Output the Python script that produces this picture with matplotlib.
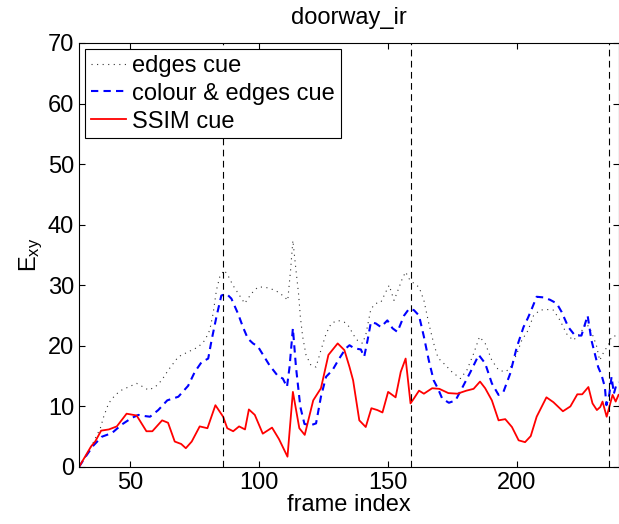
import matplotlib
matplotlib.use("Agg")
import matplotlib.pyplot as plt

plt.rcParams['font.family'] = ['Liberation Sans', 'DejaVu Sans']
plt.rcParams['mathtext.default'] = 'regular'

# valeurs (frame index, E_xy)
edges_x = [30, 33.0, 35.5, 38.3, 39.6, 41.5, 44.1, 46.6, 49.2, 52.4, 55.0, 57.0, 59.6, 62.1, 64.7,
           68.6, 72.4, 76.3, 78.9, 80.8, 82.1, 83.4, 84.7, 86.4, 87.9, 89.8, 92.4, 94.4, 96.9, 99.5,
           102.1, 104.7, 107.3, 109.8, 111.1, 112.2, 113.1, 114.3, 115.3, 116.0, 116.9, 118.2, 120.1,
           122.1, 124.0, 126.0, 128.0, 130.5, 133.1, 135.1, 136.3, 138.2, 140.2, 141.5, 143.4, 145.3,
           147.3, 149.2, 150.5, 152.4, 154.4, 155.6, 156.9, 158.2, 160.1, 162.1, 164.0, 165.9, 167.8,
           169.5, 171.7, 174.9, 178.2, 180.7, 183.3, 185.6, 187.8, 190.4, 193.0, 195.6, 197.5, 200.1,
           202.0, 204.4, 206.6, 209.1, 211.7, 214.3, 216.9, 219.4, 222.0, 224.6, 227.2, 229.1, 231.0,
           232.3, 233.9, 235.6, 236.9, 238.9, 239.6]
edges_y = [0, 2.0, 4.0, 6.4, 8.3, 10.5, 11.9, 12.7, 13.2, 13.8, 13.2, 12.7, 13.2, 14.3, 16.0,
           18.2, 19.0, 19.8, 20.9, 22.6, 25.3, 29.2, 31.4, 32.5, 31.6, 30.0, 28.3, 27.0, 28.6, 29.7,
           29.7, 29.4, 28.9, 28.1, 27.5, 32.5, 37.4, 32.5, 28.6, 24.8, 21.5, 18.5, 16.8,
           16.5, 19.3, 22.0, 23.7, 24.2, 23.9, 23.1, 22.0, 20.9, 20.4, 22.0, 26.1, 27.0,
           27.2, 28.9, 30.0, 27.5, 29.7, 31.1, 32.2, 31.1, 30.3, 29.7, 27.5, 23.7, 20.4,
           18.0, 17.1, 15.7, 14.6, 16.0, 18.7, 21.5, 20.4, 17.6, 16.0, 15.7, 16.3, 18.7,
           20.9, 22.5, 25.0, 25.9, 26.0, 25.9, 24.2, 22.0, 20.9, 22.0, 23.7, 22.3, 20.1,
           17.6, 19.0, 20.1, 21.5, 21.7, 21.7]

colour_x = [30, 32.4, 35.5, 38.9, 42.8, 46.6, 50.5, 53.1, 55.7, 57.6, 60.8, 64.3, 68.6, 72.4, 75.0,
            77.6, 80.2, 81.5, 83.4, 85.3, 87.3, 89.2, 91.8, 93.7, 95.6, 97.6, 99.5, 100.8, 104.0,
            107.3, 109.2, 110.8, 111.8, 113.1, 114.3, 116.0, 117.6, 120.1, 122.1, 124.0, 126.0,
            128.5, 131.1, 133.7, 135.1, 136.9, 139.5, 140.8, 142.1, 143.4, 145.3, 147.3, 149.8,
            151.8, 153.7, 156.3, 158.2, 160.1, 162.1, 164.0, 165.9, 167.8, 169.5, 171.1, 173.7,
            176.3, 178.8, 182.1, 185.3, 187.8, 190.4, 193.0, 194.9, 197.5, 200.1, 202.7, 204.4,
            205.9, 207.8, 210.4, 213.0, 215.6, 217.5, 220.1, 222.7, 225.2, 227.6, 229.1, 230.4,
            231.7, 233.0, 234.3, 234.9, 236.0, 236.9, 237.8, 238.9, 239.6]
colour_y = [0, 1.6, 3.5, 5.0, 5.6, 7.0, 8.1, 8.6, 8.4, 8.3, 9.4, 11.0, 11.6, 13.4, 15.7,
            17.3, 17.9, 20.9, 24.8, 28.3, 28.6, 27.8, 25.3, 23.1, 21.2, 20.4, 19.9, 19.0, 16.8,
            15.0, 14.6, 13.2, 16.5, 22.9, 16.5, 9.9, 7.1, 6.9, 7.2, 11.6, 14.9,
            16.0, 17.9, 19.6, 20.1, 19.6, 19.4, 18.2, 20.9, 23.9, 23.7, 23.1, 24.2,
            22.9, 22.3, 25.0, 26.1, 25.9, 25.0, 21.5, 17.6, 14.3, 12.9, 11.3, 10.6,
            11.0, 13.0, 15.7, 18.5, 17.1, 13.8, 11.9, 12.4, 15.4, 19.8, 23.1, 24.6,
            26.1, 28.1, 28.0, 27.6, 27.0, 25.6, 23.1, 21.7, 21.7, 25.0, 20.9, 18.7,
            16.5, 15.2, 13.2, 10.2, 11.9, 14.9, 12.1, 13.8, 14.0]

ssim_x = [30, 34.7, 36.3, 38.6, 41.6, 44.7, 48.5, 52.4, 56.2, 58.5, 62.3, 64.6, 67.2, 69.7, 71.5,
          73.8, 76.9, 79.9, 83.0, 86.0, 87.6, 89.9, 92.2, 94.5, 96.0, 98.3, 101.4, 105.0, 107.7,
          111.0, 113.1, 115.6, 117.7, 121.0, 124.0, 126.9, 130.5, 133.1, 135.1, 136.5, 138.9,
          141.4, 143.6, 145.9, 147.9, 150.1, 153.0, 155.0, 156.9, 158.8, 160.1, 162.1, 164.0,
          167.2, 170.0, 173.5, 177.0, 180.5, 183.3, 185.8, 187.8, 190.4, 193.0, 195.6, 198.2,
          200.8, 203.3, 205.5, 207.8, 211.6, 214.3, 218.0, 220.9, 223.6, 225.5, 227.9, 229.5,
          231.2, 232.5, 233.4, 235.0, 236.4, 237.3, 238.5, 239.6]
ssim_y = [0, 3.4, 4.2, 6.0, 6.2, 6.7, 8.8, 8.5, 5.9, 5.9, 7.7, 7.3, 4.2, 3.8, 3.1,
          4.2, 6.7, 6.4, 10.2, 8.3, 6.4, 5.9, 6.7, 6.2, 9.5, 8.6, 5.5, 6.5, 4.6,
          1.7, 12.4, 6.4, 5.3, 11.0, 13.0, 18.5, 20.4, 19.3, 16.5, 14.3, 7.7,
          6.6, 9.7, 9.4, 9.0, 12.4, 11.5, 15.7, 17.9, 10.5, 11.3, 12.6, 12.1,
          13.0, 12.9, 12.2, 12.1, 12.6, 12.9, 14.1, 13.0, 11.0, 7.7, 7.9, 6.6,
          4.4, 4.1, 5.1, 8.3, 11.5, 10.7, 9.2, 10.0, 12.0, 12.0, 13.2, 10.5,
          9.4, 9.9, 10.8, 8.3, 10.5, 11.9, 10.8, 11.9]

# changements de scène
boundaries = [86, 159, 236]

fig = plt.figure(figsize=(6.19, 5.24), dpi=100)
ax = fig.add_axes([0.1276, 0.1088, 0.8716, 0.8092])

ax.plot(edges_x, edges_y, color='0.2', linestyle=(0, (1, 4)), linewidth=0.8, label='edges cue')
ax.plot(colour_x, colour_y, color='b', linestyle=(0, (3.5, 2.5)), linewidth=1.5, label='colour & edges cue')
ax.plot(ssim_x, ssim_y, color='r', linewidth=1.3, label='SSIM cue')
for b in boundaries:
    ax.axvline(b, color='k', linestyle=(0, (6, 4)), linewidth=0.8)

ax.set_xlim(30, 239.6)
ax.set_ylim(0, 70)
ax.set_xticks([50, 100, 150, 200])
ax.set_yticks(range(0, 71, 10))
ax.tick_params(direction='in', top=True, right=True, length=4, width=0.8, labelsize=17)
for s in ax.spines.values():
    s.set_linewidth(0.8)

ax.set_xlabel('frame index', fontsize=17, labelpad=0)
ax.set_ylabel('E$_{xy}$', fontsize=17, labelpad=2)
ax.set_title('doorway_ir', fontsize=17, pad=14)

leg = ax.legend(loc='upper left', fontsize=17, fancybox=False, framealpha=1, edgecolor='k',
                borderaxespad=0.25, handlelength=1.5, handletextpad=0.25, labelspacing=0.25,
                borderpad=0.25)
leg.get_frame().set_linewidth(0.8)

fig.savefig('out.png', dpi=100)
